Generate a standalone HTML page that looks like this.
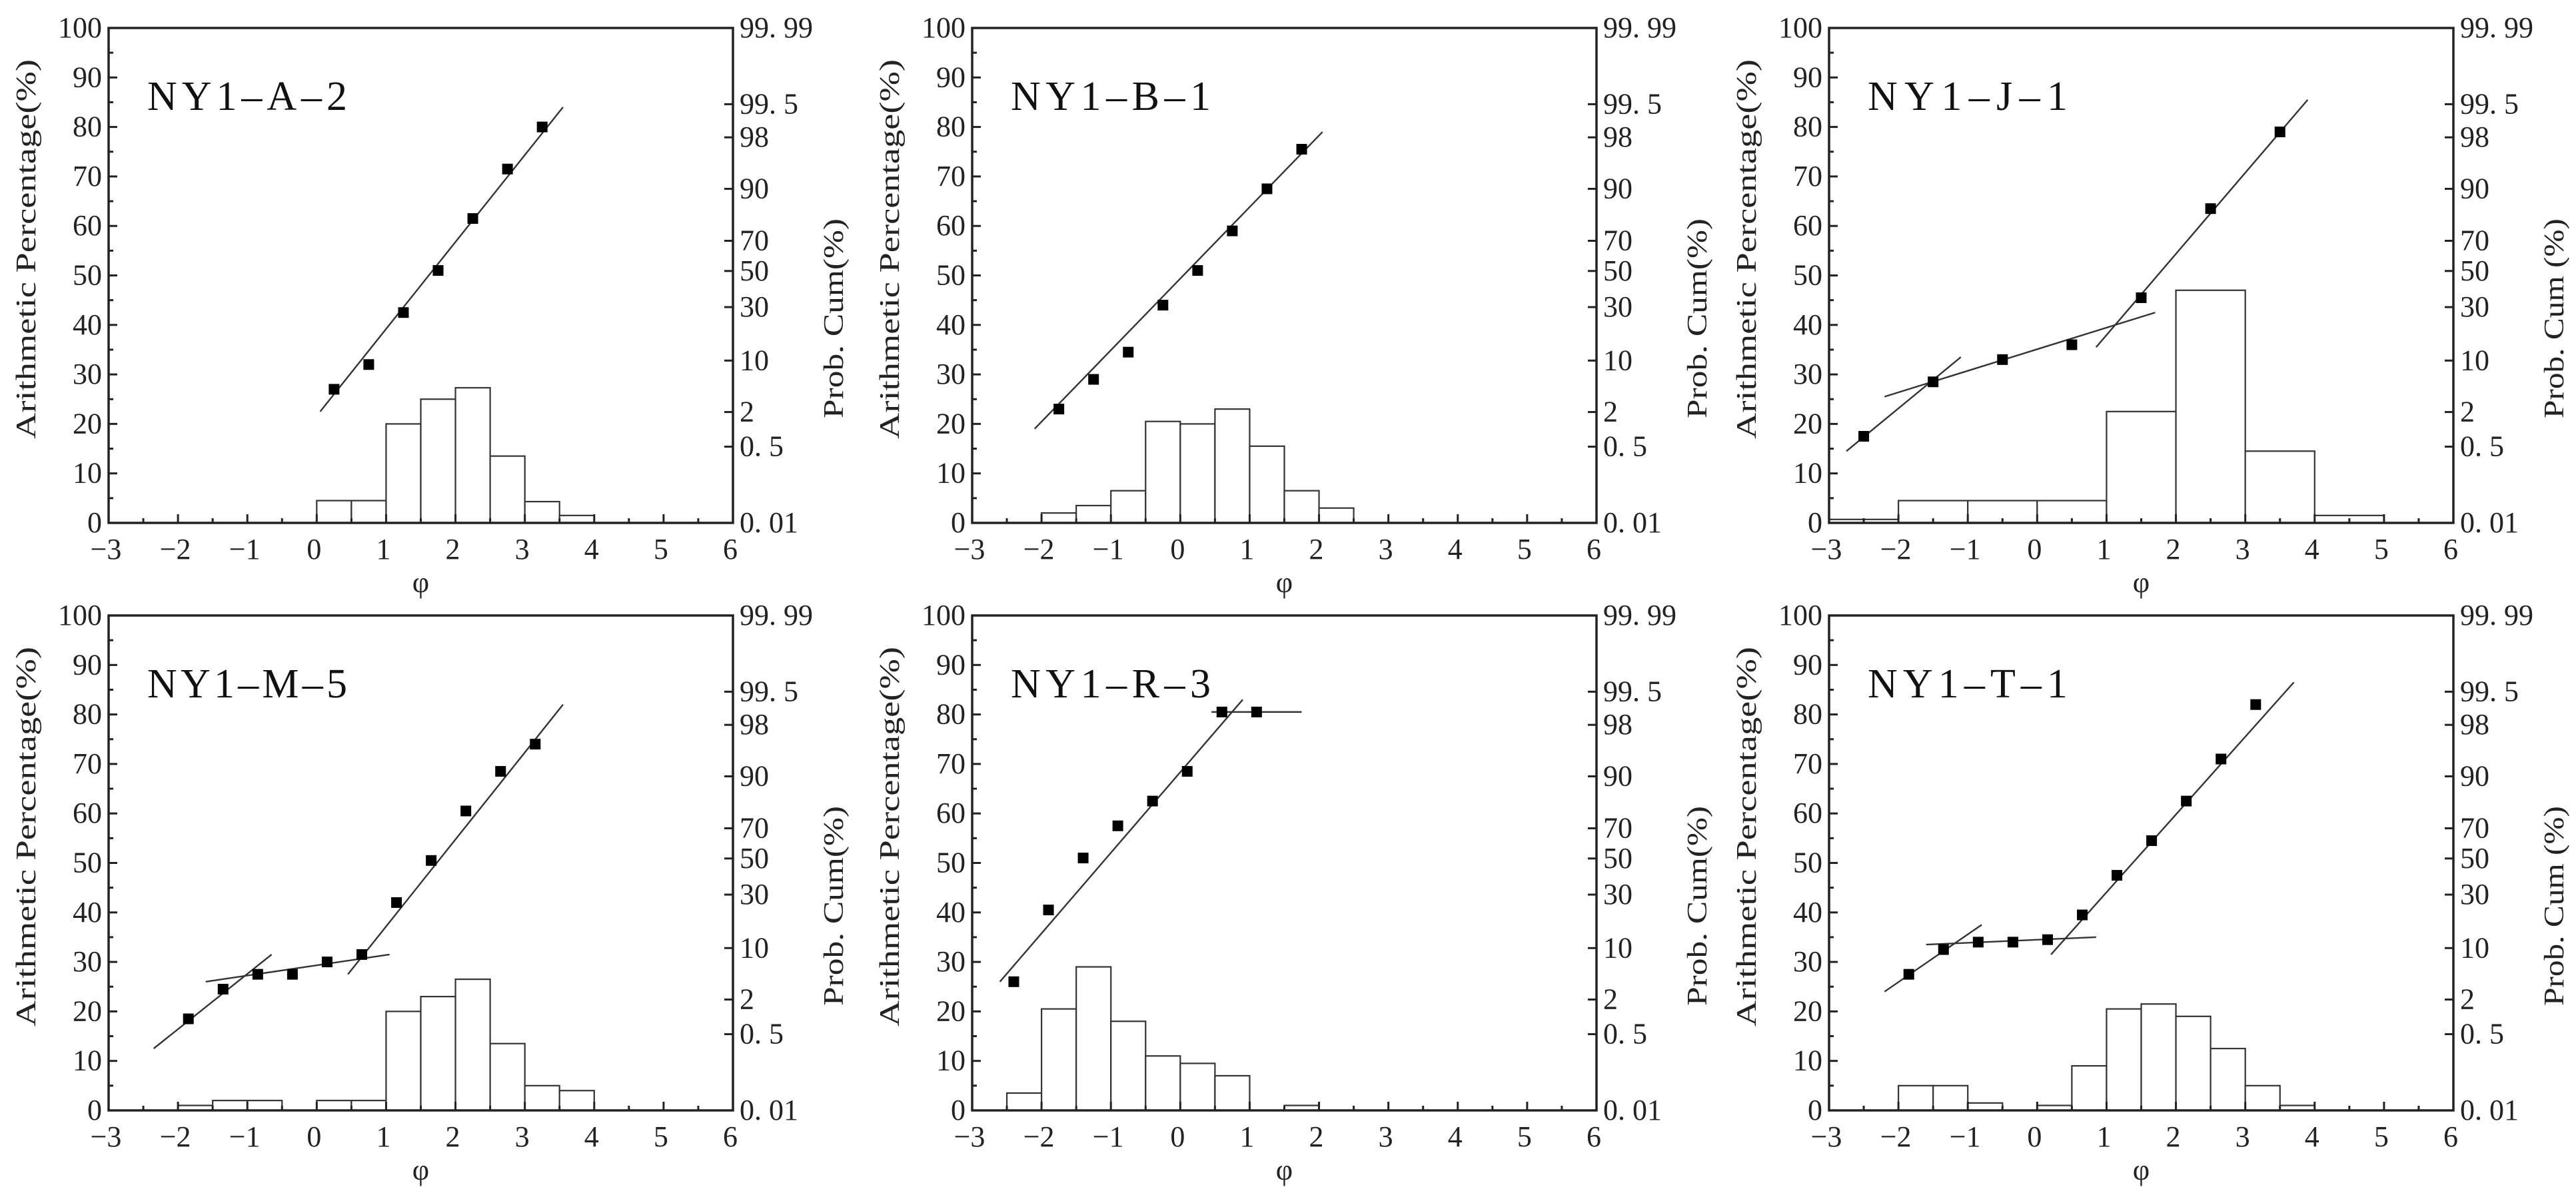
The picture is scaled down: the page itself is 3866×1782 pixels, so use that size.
<!DOCTYPE html>
<html><head><meta charset="utf-8"><style>
html,body{margin:0;padding:0;background:#fff;}
svg{display:block;font-family:"Liberation Serif",serif;}
</style></head><body>
<svg id="fig" width="3866" height="1782" viewBox="0 0 3866 1782"></svg>
<script>
// ---- data arrays ----
const panelNames = ["NY1-A-2","NY1-B-1","NY1-J-1","NY1-M-5","NY1-R-3","NY1-T-1"];
const probLabels = ["Prob. Cum(%)","Prob. Cum(%)","Prob. Cum (%)","Prob. Cum(%)","Prob. Cum(%)","Prob. Cum (%)"];
const xTicks = [-3,-2,-1,0,1,2,3,4,5,6];
const yTicks = [0,10,20,30,40,50,60,70,80,90,100];
const probTickLabels = ["99. 99","99. 5","98","90","70","50","30","10","2","0. 5","0. 01"];
const probTickPos = [100,84.6,77.9,67.5,57,50.9,43.6,32.8,22.4,15.4,0];

const binStartA = [0,0.5,1,1.5,2,2.5,3,3.5];
const binValA = [4.5,4.5,20,25,27.3,13.5,4.3,1.5];
const ptXA = [0.25,0.75,1.25,1.75,2.25,2.75,3.25];
const ptYA = [27,32,42.5,51,61.5,71.5,80];
const fitA = [[0.05,22.5,3.55,84]];

const binStartB = [-2,-1.5,-1,-0.5,0,0.5,1,1.5,2];
const binValB = [2,3.5,6.5,20.5,20,23,15.5,6.5,3];
const ptXB = [-1.75,-1.25,-0.75,-0.25,0.25,0.75,1.25,1.75];
const ptYB = [23,29,34.5,44,51,59,67.5,75.5];
const fitB = [[-2.1,19,2.05,79]];

const binStartJ = [-3,-2,-1,0,1,2,3,4];
const binValJ = [0.7,4.5,4.5,4.5,22.5,47,14.5,1.5];
const ptXJ = [-2.5,-1.5,-0.5,0.5,1.5,2.5,3.5];
const ptYJ = [17.5,28.5,33,36,45.5,63.5,79];
const fitJ = [[-2.75,14.5,-1.1,33.5],[-2.2,25.5,1.7,42.5],[0.85,35.5,3.9,85.5]];

const binStartM = [-2,-1.5,-1,0,0.5,1,1.5,2,2.5,3,3.5];
const binValM = [1,2,2,2,2,20,23,26.5,13.5,5,4];
const ptXM = [-1.85,-1.35,-0.85,-0.35,0.15,0.65,1.15,1.65,2.15,2.65,3.15];
const ptYM = [18.5,24.5,27.5,27.5,30,31.5,42,50.5,60.5,68.5,74];
const fitM = [[-2.35,12.5,-0.65,31.5],[-1.6,26,1.05,31.5],[0.45,27.5,3.55,82]];

const binStartR = [-2.5,-2,-1.5,-1,-0.5,0,0.5,1.5];
const binValR = [3.5,20.5,29,18,11,9.5,7,1];
const ptXR = [-2.4,-1.9,-1.4,-0.9,-0.4,0.1,0.6,1.1];
const ptYR = [26,40.5,51,57.5,62.5,68.5,80.5,80.5];
const fitR = [[-2.6,26,0.9,83],[0.45,80.5,1.75,80.5]];

const binStartT = [-2,-1.5,-1,0,0.5,1,1.5,2,2.5,3,3.5];
const binValT = [5,5,1.5,1,9,20.5,21.5,19,12.5,5,1];
const ptXT = [-1.85,-1.35,-0.85,-0.35,0.15,0.65,1.15,1.65,2.15,2.65,3.15];
const ptYT = [27.5,32.5,34,34,34.5,39.5,47.5,54.5,62.5,71,82];
const fitT = [[-2.2,24,-0.8,37.5],[-1.6,33.5,0.85,35],[0.2,31.5,3.7,86.5]];

const binWidths = [0.5,0.5,1,0.5,0.5,0.5];
const allBinStarts = [binStartA,binStartB,binStartJ,binStartM,binStartR,binStartT];
const allBinVals = [binValA,binValB,binValJ,binValM,binValR,binValT];
const allPtX = [ptXA,ptXB,ptXJ,ptXM,ptXR,ptXT];
const allPtY = [ptYA,ptYB,ptYJ,ptYM,ptYR,ptYT];
const allFits = [fitA,fitB,fitJ,fitM,fitR,fitT];

// ---- layout ----
const lefts = [163,1459,2745];
const tops = [42,924];
const PW = 937, PH = 743;
const NS = "http://www.w3.org/2000/svg";
const svg = document.getElementById("fig");
function mk(tag, attrs, parent){
  const e = document.createElementNS(NS, tag);
  for (const k in attrs) e.setAttribute(k, attrs[k]);
  parent.appendChild(e);
  return e;
}
panelNames.forEach((name, i) => {
  const L = lefts[i % 3], T = tops[Math.floor(i / 3)];
  const sx = v => L + (v + 3) / 9 * PW;
  const sy = v => T + PH - v / 100 * PH;
  const g = mk("g", {}, svg);
  
  
  // bars
  allBinStarts[i].forEach((s, j) => {
    const v = allBinVals[i][j];
    const r = mk("rect", {x: sx(s), y: sy(v), width: sx(s + binWidths[i]) - sx(s), height: sy(0) - sy(v), fill: "#fff", stroke: "#333", "stroke-width": 2.2}, g);
    
    
  });
  // fit lines
  allFits[i].forEach(f => {
    const l = mk("line", {x1: sx(f[0]), y1: sy(f[1]), x2: sx(f[2]), y2: sy(f[3]), stroke: "#333", "stroke-width": 2.4}, g);
    
    
  });
  // points
  allPtX[i].forEach((x, j) => {
    const y = allPtY[i][j];
    const p = mk("rect", {x: sx(x) - 8, y: sy(y) - 8, width: 16, height: 16, fill: "#000"}, g);
    
    
  });
  // frame
  const fr = mk("rect", {x: L, y: T, width: PW, height: PH, fill: "none", stroke: "#222", "stroke-width": 3.5}, g);
  
  
  // x ticks
  xTicks.forEach(t => {
    mk("line", {x1: sx(t), y1: sy(0), x2: sx(t), y2: sy(0) - 13, stroke: "#222", "stroke-width": 3}, g);
    if (t < 6) mk("line", {x1: sx(t + 0.5), y1: sy(0), x2: sx(t + 0.5), y2: sy(0) - 7, stroke: "#222", "stroke-width": 3}, g);
    const tx = mk("text", {x: sx(t) - 4, y: sy(0) + 54, "font-size": 44, "text-anchor": "middle", fill: "#222"}, g);
    tx.textContent = (t < 0 ? "\u2212" + (-t) : String(t));
    
    
  });
  // y ticks
  yTicks.forEach(t => {
    mk("line", {x1: L, y1: sy(t), x2: L + 13, y2: sy(t), stroke: "#222", "stroke-width": 3}, g);
    if (t < 100) mk("line", {x1: L, y1: sy(t + 5), x2: L + 7, y2: sy(t + 5), stroke: "#222", "stroke-width": 3}, g);
    const ty = mk("text", {x: L - 10, y: sy(t) + 14, "font-size": 44, "text-anchor": "end", fill: "#222"}, g);
    ty.textContent = String(t);
    
    
  });
  // right prob ticks
  probTickPos.forEach((p, j) => {
    mk("line", {x1: L + PW, y1: sy(p), x2: L + PW - 13, y2: sy(p), stroke: "#222", "stroke-width": 3}, g);
    const tr = mk("text", {x: L + PW + 10, y: sy(p) + 14, "font-size": 44, fill: "#222"}, g);
    tr.textContent = probTickLabels[j];
    
    
  });
  // title
  const tt = mk("text", {x: L + 58, y: T + 123, "font-size": 62, fill: "#111", textLength: 300, lengthAdjust: "spacing"}, g);
  tt.textContent = name.replace(/-/g, "\u2013");
  
  
  // axis titles
  const yt = mk("text", {x: 0, y: 0, "font-size": 42, "text-anchor": "middle", fill: "#222", textLength: 570, lengthAdjust: "spacingAndGlyphs", transform: "translate(" + (L - 110) + "," + (T + 332) + ") rotate(-90)"}, g);
  yt.textContent = "Arithmetic Percentage(%)";
  
  
  const pt = mk("text", {x: 0, y: 0, "font-size": 42, "text-anchor": "middle", fill: "#222", textLength: 300, lengthAdjust: "spacingAndGlyphs", transform: "translate(" + (L + PW + 165) + "," + (T + 436) + ") rotate(-90)"}, g);
  pt.textContent = probLabels[i];
  
  
  const xt = mk("text", {x: sx(1.5), y: sy(0) + 104, "font-size": 44, "text-anchor": "middle", fill: "#222"}, g);
  xt.textContent = "\u03C6";
  
  
});
</script>
</body></html>
